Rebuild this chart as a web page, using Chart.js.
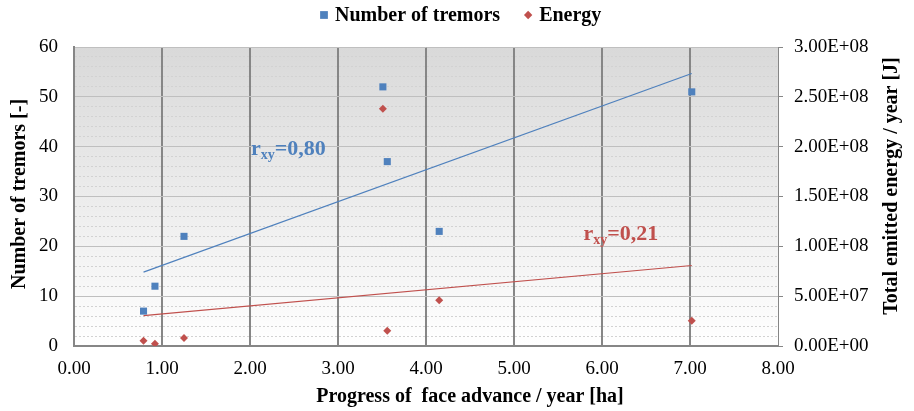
<!DOCTYPE html>
<html>
<head>
<meta charset="utf-8">
<title>Tremors and emitted energy vs. face advance</title>
<script src="https://cdn.jsdelivr.net/npm/chart.js@4.4.1/dist/chart.umd.min.js"></script>
<style>
  html, body { margin: 0; padding: 0; background: #ffffff; }
  #wrap { width: 914px; height: 411px; }
</style>
</head>
<body>
<div id="wrap"><canvas id="chart" width="914" height="411"></canvas></div>
<script>
// Progress of face advance per year [ha]
const advance = [0.79, 0.92, 1.25, 3.51, 3.56, 4.15, 7.02];
// Number of tremors per year [-]
const tremors = [7, 12, 22, 52, 37, 23, 51];
// Total emitted seismic energy per year [J]
const energy = [5.3e6, 2.3e6, 8.0e6, 2.38e8, 1.54e7, 4.58e7, 2.54e7];

// Axis tick labels
const xTickLabels = ['0.00', '1.00', '2.00', '3.00', '4.00', '5.00', '6.00', '7.00', '8.00'];
const tremorTickLabels = ['0', '10', '20', '30', '40', '50', '60'];
const energyTickLabels = ['0.00E+00', '5.00E+07', '1.00E+08', '1.50E+08', '2.00E+08', '2.50E+08', '3.00E+08'];

const BLUE = '#4f81bd';
const RED = '#c0504d';
const AXIS_GREY = '#868686';
const SERIF = '"Liberation Serif", "Times New Roman", serif';

// Least-squares line and Pearson correlation
function linearFit(xs, ys) {
  const n = xs.length;
  const mx = xs.reduce((a, b) => a + b, 0) / n;
  const my = ys.reduce((a, b) => a + b, 0) / n;
  let sxy = 0, sxx = 0, syy = 0;
  for (let i = 0; i < n; i++) {
    const dx = xs[i] - mx, dy = ys[i] - my;
    sxy += dx * dy; sxx += dx * dx; syy += dy * dy;
  }
  const slope = sxy / sxx;
  return { slope, intercept: my - slope * mx, r: sxy / Math.sqrt(sxx * syy) };
}

function trendPoints(xs, fit) {
  const x0 = Math.min(...xs), x1 = Math.max(...xs);
  return [
    { x: x0, y: fit.intercept + fit.slope * x0 },
    { x: x1, y: fit.intercept + fit.slope * x1 }
  ];
}

const tremorFit = linearFit(advance, tremors);
const energyFit = linearFit(advance, energy);

const pairs = (xs, ys) => xs.map((x, i) => ({ x, y: ys[i] }));

// Plot area shading: grey at the top fading to white
const plotBackground = {
  id: 'plotBackground',
  beforeDraw(chart) {
    const { ctx, chartArea: a } = chart;
    ctx.save();
    ctx.fillStyle = '#ffffff';
    ctx.fillRect(0, 0, chart.width, chart.height);
    const g = ctx.createLinearGradient(0, a.top, 0, a.bottom);
    g.addColorStop(0, '#d9d9d9');
    g.addColorStop(1, '#ffffff');
    ctx.fillStyle = g;
    ctx.fillRect(a.left, a.top, a.right - a.left, a.bottom - a.top);
    ctx.restore();
  }
};

// Legend row above the plot
const legendRow = {
  id: 'legendRow',
  afterDraw(chart, args, opts) {
    const { ctx } = chart;
    ctx.save();
    ctx.font = 'bold 20px ' + SERIF;
    ctx.textBaseline = 'middle';
    ctx.textAlign = 'left';
    let x = opts.x;
    chart.data.datasets.forEach(ds => {
      if (!ds.inLegend) return;
      ctx.fillStyle = ds.backgroundColor;
      Chart.helpers.drawPoint(ctx, {
        pointStyle: ds.pointStyle,
        radius: ds.pointStyle === 'rect' ? 5.5 : 4.2,
        rotation: 0,
        borderWidth: 0
      }, x + 4, opts.y);
      ctx.fillStyle = '#000000';
      ctx.fillText(ds.label, x + 15, opts.y + 1);
      x += 15 + ctx.measureText(ds.label).width + 24;
    });
    ctx.restore();
  }
};

// Axis titles
const axisTitles = {
  id: 'axisTitles',
  afterDraw(chart, args, opts) {
    const { ctx } = chart;
    ctx.save();
    ctx.font = 'bold 20px ' + SERIF;
    ctx.fillStyle = '#000000';
    ctx.textAlign = 'center';
    ctx.textBaseline = 'middle';
    ctx.fillText(opts.x.text, opts.x.cx, opts.x.cy);
    [opts.y, opts.y2].forEach(t => {
      ctx.save();
      ctx.translate(t.cx, t.cy);
      ctx.rotate(-Math.PI / 2);
      ctx.fillText(t.text, 0, 0);
      ctx.restore();
    });
    ctx.restore();
  }
};

// Correlation coefficient labels next to the trend lines
const correlationLabels = {
  id: 'correlationLabels',
  afterDatasetsDraw(chart, args, opts) {
    const { ctx, scales } = chart;
    ctx.save();
    ctx.textAlign = 'left';
    ctx.textBaseline = 'alphabetic';
    opts.items.forEach(item => {
      let x = scales.x.getPixelForValue(item.x);
      const y = scales[item.axis].getPixelForValue(item.y);
      ctx.fillStyle = item.color;
      ctx.font = 'bold 22px ' + SERIF;
      ctx.fillText('r', x, y);
      x += ctx.measureText('r').width;
      ctx.font = 'bold 14px ' + SERIF;
      ctx.fillText('xy', x, y + 4);
      x += ctx.measureText('xy').width;
      ctx.font = 'bold 22px ' + SERIF;
      ctx.fillText('=' + item.r.toFixed(2).replace('.', ','), x, y);
    });
    ctx.restore();
  }
};

new Chart(document.getElementById('chart'), {
  type: 'scatter',
  data: {
    datasets: [
      {
        label: 'Number of tremors',
        inLegend: true,
        data: pairs(advance, tremors),
        yAxisID: 'y',
        pointStyle: 'rect',
        pointRadius: 5,
        pointHoverRadius: 5,
        backgroundColor: BLUE,
        borderColor: BLUE,
        borderWidth: 0
      },
      {
        label: 'Energy',
        inLegend: true,
        data: pairs(advance, energy),
        yAxisID: 'y2',
        pointStyle: 'rectRot',
        pointRadius: 4,
        pointHoverRadius: 4,
        backgroundColor: RED,
        borderColor: RED,
        borderWidth: 0
      },
      {
        label: 'Tremors trend',
        data: trendPoints(advance, tremorFit),
        yAxisID: 'y',
        showLine: true,
        pointRadius: 0,
        borderColor: BLUE,
        backgroundColor: BLUE,
        borderWidth: 1.2
      },
      {
        label: 'Energy trend',
        data: trendPoints(advance, energyFit),
        yAxisID: 'y2',
        showLine: true,
        pointRadius: 0,
        borderColor: RED,
        backgroundColor: RED,
        borderWidth: 1.2
      }
    ]
  },
  options: {
    responsive: false,
    animation: false,
    devicePixelRatio: 1,
    layout: { padding: { top: 47, left: 0, right: 0, bottom: 0 } },
    plugins: {
      legend: { display: false },
      tooltip: { enabled: false },
      legendRow: { x: 320, y: 15 },
      axisTitles: {
        x: { text: 'Progress of  face advance / year [ha]', cx: 470, cy: 397 },
        y: { text: 'Number of tremors [-]', cx: 20, cy: 194 },
        y2: { text: 'Total emitted energy / year [J]', cx: 892, cy: 186 }
      },
      correlationLabels: {
        items: [
          { x: 2.01, y: 38.3, axis: 'y', color: BLUE, r: tremorFit.r },
          { x: 5.79, y: 1.065e8, axis: 'y2', color: RED, r: energyFit.r }
        ]
      }
    },
    scales: {
      x: {
        type: 'linear',
        min: 0,
        max: 8,
        afterFit: s => { s.height = 65; },
        ticks: {
          stepSize: 1,
          padding: 12,
          autoSkip: false,
          maxRotation: 0,
          color: '#000000',
          font: { family: SERIF, size: 19 },
          callback: v => xTickLabels[v]
        },
        grid: {
          drawTicks: false,
          color: AXIS_GREY,
          lineWidth: c => (c.tick && c.tick.value > 0 && c.tick.value < 8) ? 2 : 0
        },
        border: { color: AXIS_GREY, width: 2 }
      },
      y: {
        type: 'linear',
        position: 'left',
        min: 0,
        max: 60,
        afterFit: s => { s.width = 74; },
        ticks: {
          stepSize: 2,
          padding: 16,
          autoSkip: false,
          color: '#000000',
          font: { family: SERIF, size: 19 },
          callback: v => (v % 10 === 0 ? tremorTickLabels[v / 10] : '')
        },
        grid: {
          drawTicks: false,
          color: c => (c.tick && c.tick.value % 10 === 0) ? '#bfbfbf' : '#d2d2d2',
          lineWidth: 1
        },
        border: {
          color: AXIS_GREY,
          width: 2,
          dash: c => (c.tick && c.tick.value % 10 !== 0) ? [2, 2] : []
        }
      },
      y2: {
        type: 'linear',
        position: 'right',
        min: 0,
        max: 3e8,
        afterFit: s => { s.width = 136; },
        ticks: {
          stepSize: 5e7,
          padding: 11,
          autoSkip: false,
          color: '#000000',
          font: { family: SERIF, size: 19 },
          callback: v => energyTickLabels[Math.round(v / 5e7)]
        },
        grid: {
          drawOnChartArea: false,
          drawTicks: true,
          tickLength: 5,
          tickColor: AXIS_GREY,
          tickWidth: 1
        },
        border: { color: AXIS_GREY, width: 1 }
      }
    }
  },
  plugins: [plotBackground, legendRow, axisTitles, correlationLabels]
});
</script>
</body>
</html>
